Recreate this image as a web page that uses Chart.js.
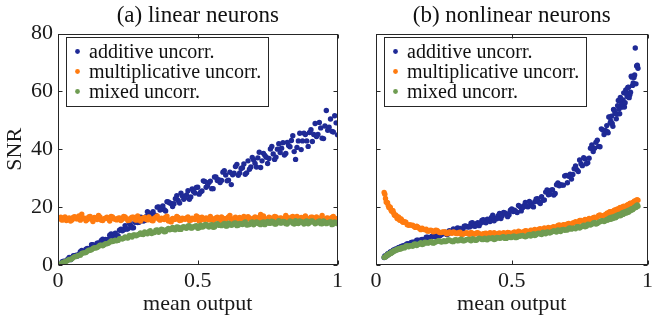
<!DOCTYPE html>
<html>
<head>
<meta charset="utf-8">
<title>SNR vs mean output</title>
<script src="https://cdn.jsdelivr.net/npm/chart.js@4.4.0/dist/chart.umd.min.js"></script>
<style>
  html, body { margin: 0; padding: 0; background: #fff; }
  body { width: 656px; height: 325px; position: relative; overflow: hidden; }
  .panel { position: absolute; top: 0; height: 325px; }
  #panelA { left: 0; width: 346px; }
  #panelB { left: 346px; width: 310px; }
</style>
</head>
<body>
<div class="panel" id="panelA"><canvas id="chartA"></canvas></div>
<div class="panel" id="panelB"><canvas id="chartB"></canvas></div>
<script>
// --- data ---
const seriesLabels = ['additive uncorr.', 'multiplicative uncorr.', 'mixed uncorr.'];
const seriesColors = ['#1f2a96', '#ff7b0f', '#6f9c52'];
const panelTitles = ['(a) linear neurons', '(b) nonlinear neurons'];
const xTicks = [0, 0.5, 1];
const yTicks = [0, 20, 40, 60, 80];

// (a) linear neurons -- two sweeps of readings (whole and half steps)
const xLinear = [
  0.00,0.01,0.02,0.03,0.04,0.05,0.06,0.07,0.08,0.09,
  0.10,0.11,0.12,0.13,0.14,0.15,0.16,0.17,0.18,0.19,
  0.20,0.21,0.22,0.23,0.24,0.25,0.26,0.27,0.28,0.29,
  0.30,0.31,0.32,0.33,0.34,0.35,0.36,0.37,0.38,0.39,
  0.40,0.41,0.42,0.43,0.44,0.45,0.46,0.47,0.48,0.49,
  0.50,0.51,0.52,0.53,0.54,0.55,0.56,0.57,0.58,0.59,
  0.60,0.61,0.62,0.63,0.64,0.65,0.66,0.67,0.68,0.69,
  0.70,0.71,0.72,0.73,0.74,0.75,0.76,0.77,0.78,0.79,
  0.80,0.81,0.82,0.83,0.84,0.85,0.86,0.87,0.88,0.89,
  0.90,0.91,0.92,0.93,0.94,0.95,0.96,0.97,0.98,0.99,
  1.00,
  0.005,0.015,0.025,0.035,0.045,0.055,0.065,0.075,0.085,0.095,
  0.105,0.115,0.125,0.135,0.145,0.155,0.165,0.175,0.185,0.195,
  0.205,0.215,0.225,0.235,0.245,0.255,0.265,0.275,0.285,0.295,
  0.305,0.315,0.325,0.335,0.345,0.355,0.365,0.375,0.385,0.395,
  0.405,0.415,0.425,0.435,0.445,0.455,0.465,0.475,0.485,0.495,
  0.505,0.515,0.525,0.535,0.545,0.555,0.565,0.575,0.585,0.595,
  0.605,0.615,0.625,0.635,0.645,0.655,0.665,0.675,0.685,0.695,
  0.705,0.715,0.725,0.735,0.745,0.755,0.765,0.775,0.785,0.795,
  0.805,0.815,0.825,0.835,0.845,0.855,0.865,0.875,0.885,0.895,
  0.905,0.915,0.925,0.935,0.945,0.955,0.965,0.975,0.985,0.995
];
const linAdditive = [
  0.1,0.2,1.3,1.5,2.6,2.4,3.2,3.1,4.6,4.5,
  5.5,5.2,7.0,6.6,7.5,7.0,8.9,8.8,8.8,10.7,
  10.5,10.1,12.0,11.8,13.6,12.5,13.7,12.9,15.5,14.8,
  16.4,15.4,18.4,17.1,18.4,17.1,20.1,19.4,19.1,21.9,
  21.4,20.2,22.9,22.3,24.8,22.7,24.2,22.7,26.3,24.9,
  26.9,25.2,29.1,26.9,28.5,26.4,30.4,29.2,28.5,32.1,
  31.1,29.3,27.8,31.7,34.8,31.8,33.6,31.4,36.0,33.9,
  36.3,33.9,39.0,36.0,37.9,35.1,40.1,38.4,37.3,41.9,
  40.4,38.0,42.4,40.9,44.7,36.5,42.9,39.9,45.6,42.9,
  45.8,42.7,48.9,45.1,47.4,43.7,53.4,47.6,46.2,51.6,
  45.0,
  0.1,1.1,1.25,2.0,1.85,3.2,3.4,3.7,5.05,4.45,
  5.7,5.8,7.05,6.45,7.6,8.45,7.7,8.5,10.3,9.9,
  11.0,10.1,12.4,12.2,12.4,14.5,12.9,14.8,14.7,16.5,
  15.2,16.7,17.9,16.4,17.3,20.0,19.0,20.4,18.65,21.8,
  21.25,21.2,23.95,21.4,23.85,23.35,25.65,23.5,25.45,26.8,
  24.5,25.6,28.9,27.4,29.0,26.4,30.4,29.45,29.2,32.6,
  29.1,32.05,31.2,34.05,31.05,33.4,34.95,31.85,33.1,37.2,
  35.15,37.05,33.7,38.6,37.25,36.8,40.95,36.5,40.05,38.9,
  42.3,38.55,41.3,43.05,39.2,40.65,45.55,42.9,45.1,41.0,
  46.75,45.1,44.45,49.3,43.85,48.05,46.6,50.5,46.0,49.15
];
const linMultiplicative = [
  15.8,16.5,16.1,15.4,16.3,15.6,16.7,16.0,15.5,16.2,
  15.3,16.6,15.8,16.4,15.7,16.6,15.4,16.2,15.9,16.8,
  16.0,15.6,16.3,15.8,16.6,15.4,16.2,16.5,15.5,16.1,
  15.8,16.4,15.6,16.0,15.3,16.5,15.9,16.2,15.7,16.9,
  15.6,16.1,15.8,16.4,15.5,16.0,16.3,15.4,16.2,15.7,
  16.6,15.5,16.0,16.3,15.6,16.1,15.8,16.5,15.4,16.2,
  15.9,16.6,15.7,16.1,15.5,16.4,15.8,16.0,16.7,15.6,
  16.2,15.9,16.5,15.7,16.1,15.4,16.3,16.0,16.6,15.8,
  16.2,15.6,16.4,15.9,16.8,15.7,16.1,16.4,15.6,16.2,
  15.9,16.5,15.7,16.0,16.3,15.5,16.2,15.8,16.4,15.9,
  16.1,
  16.3,15.5,16.6,15.8,15.2,16.5,16.0,17.0,17.6,16.2,
  15.7,16.8,15.0,16.3,17.1,15.5,16.0,16.5,15.2,16.6,
  15.8,16.2,15.4,16.8,16.0,15.5,16.5,15.7,17.0,15.2,
  16.3,15.8,16.6,15.4,16.2,17.0,15.5,16.0,16.5,15.2,
  14.9,15.7,16.8,15.4,16.2,15.8,16.6,15.5,16.0,17.0,
  15.2,16.5,15.7,16.0,16.8,15.4,16.3,15.8,16.6,15.5,
  16.2,17.1,15.7,16.5,15.4,16.0,16.8,15.8,16.3,15.5,
  16.6,15.7,17.5,17.0,15.4,16.5,15.8,16.8,15.5,16.3,
  16.0,17.1,15.7,16.5,15.4,16.8,15.8,16.2,17.0,15.5,
  16.5,15.7,16.6,16.0,17.1,15.4,16.3,15.8,16.8,15.7
];
const linMixed = [
  0.1,0.4,1.0,1.3,1.9,2.2,2.9,3.2,3.4,4.2,
  4.3,5.1,5.3,5.95,6.05,6.85,6.65,7.4,7.55,8.3,
  8.3,8.4,9.1,8.95,9.7,9.35,10.0,10.4,10.1,10.65,
  10.6,11.4,10.8,11.9,11.2,12.0,11.3,12.4,11.5,12.3,
  12.2,13.0,12.2,13.1,12.3,13.2,12.7,13.6,12.8,13.4,
  12.7,13.8,13.2,14.0,13.1,13.9,13.1,14.3,13.7,14.0,
  13.5,14.45,13.7,14.45,13.6,14.35,14.0,14.85,13.9,14.65,
  13.9,14.85,14.2,14.7,13.95,15.05,14.4,15.0,14.2,15.3,
  14.5,14.95,14.15,15.2,14.4,15.3,14.35,14.95,14.2,15.2,
  14.6,15.25,14.25,15.0,14.3,15.25,14.3,14.8,13.95,14.9,
  14.3,
  0.1,0.8,1.15,1.65,1.9,2.6,2.95,3.35,4.0,4.2,
  4.75,5.1,5.7,5.9,6.4,6.85,7.0,7.35,7.9,8.1,
  8.55,8.5,9.2,9.25,9.45,10.2,9.7,10.4,10.4,11.1,
  10.55,11.1,11.5,10.9,11.2,12.15,11.75,12.2,11.55,12.6,
  12.35,12.25,13.15,12.3,13.05,12.85,13.5,12.8,13.25,13.55,
  12.85,13.1,13.95,13.45,13.8,13.05,14.0,13.75,13.6,14.4,
  13.5,14.15,13.9,14.5,13.75,14.25,14.5,13.8,14.0,14.85,
  14.35,14.7,13.95,14.9,14.55,14.4,15.15,14.2,14.8,14.5,
  15.05,14.3,14.75,15.0,14.2,14.4,15.25,14.7,15.05,14.25,
  15.15,14.75,14.55,15.25,14.25,14.8,14.5,15.0,14.15,14.55
];

// (b) nonlinear neurons -- fine sweep, half-step sweep, extra readings at both ends
const xNonlinear = [
  0.030,0.035,0.040,0.045,0.050,0.055,0.060,0.065,0.070,0.075,0.080,0.085,0.090,0.095,0.100,
  0.11,0.12,0.13,0.14,0.15,0.16,0.17,0.18,0.19,0.20,
  0.21,0.22,0.23,0.24,0.25,0.26,0.27,0.28,0.29,0.30,
  0.31,0.32,0.33,0.34,0.35,0.36,0.37,0.38,0.39,0.40,
  0.41,0.42,0.43,0.44,0.45,0.46,0.47,0.48,0.49,0.50,
  0.51,0.52,0.53,0.54,0.55,0.56,0.57,0.58,0.59,0.60,
  0.61,0.62,0.63,0.64,0.65,0.66,0.67,0.68,0.69,0.70,
  0.71,0.72,0.73,0.74,0.75,0.76,0.77,0.78,0.79,0.80,
  0.81,0.82,0.83,0.84,0.85,
  0.855,0.860,0.865,0.870,0.875,0.880,0.885,0.890,0.895,0.900,0.905,0.910,
  0.915,0.920,0.925,0.930,0.935,0.940,0.945,0.950,0.955,0.960,0.965,
  0.105,0.115,0.125,0.135,0.145,0.155,0.165,0.175,0.185,0.195,
  0.205,0.215,0.225,0.235,0.245,0.255,0.265,0.275,0.285,0.295,
  0.305,0.315,0.325,0.335,0.345,0.355,0.365,0.375,0.385,0.395,
  0.405,0.415,0.425,0.435,0.445,0.455,0.465,0.475,0.485,0.495,
  0.505,0.515,0.525,0.535,0.545,0.555,0.565,0.575,0.585,0.595,
  0.605,0.615,0.625,0.635,0.645,0.655,0.665,0.675,0.685,0.695,
  0.705,0.715,0.725,0.735,0.745,0.755,0.765,0.775,0.785,0.795,
  0.805,0.815,0.825,0.835,0.845,
  0.0325,0.0375,0.0425,0.0475,0.0525,0.0575,0.0625,0.0675,0.0725,0.0775,0.0825,0.0875,0.0925,0.0975,
  0.8525,0.8575,0.8625,0.8675,0.8725,0.8775,0.8825,0.8875,0.8925,0.8975,0.9025,0.9075,
  0.9125,0.9175,0.9225,0.9275,0.9325,0.9375,0.9425,0.9475,0.9525,0.9575,0.9625
];
const nonlinAdditive = [
  2.6,3.1,3.2,3.9,4.0,4.5,4.5,5.2,5.15,5.5,5.5,6.1,6.1,6.2,6.7,
  7.0,7.05,7.8,7.86,8.6,8.3,8.8,8.55,9.6,9.45,
  10.1,9.74,10.98,10.47,11.05,10.54,11.9,11.7,11.56,12.84,
  12.67,12.2,13.5,13.2,14.44,13.52,14.3,13.6,15.42,14.79,
  15.83,15.04,17.18,16.17,17.05,16.04,18.21,17.7,17.36,19.34,
  18.97,18.14,20.2,19.76,21.63,20.1,21.26,20.08,22.87,21.8,
  23.58,22.47,25.91,24.44,26.05,24.71,28.33,27.8,27.6,31.0,
  30.7,29.7,33.3,32.97,36.3,34.34,36.65,35.32,40.36,39.2,
  42.4,41.0,47.07,45.11,48.2,
  45.68,51.14,49.75,48.95,53.75,52.63,50.52,55.1,53.93,57.93,54.58,57.08,
  54.6,60.52,58.28,61.47,58.9,65.27,62.1,64.86,75.0,68.8,68.0,
  6.55,7.37,7.41,7.91,7.68,8.61,8.62,8.72,9.61,9.07,
  9.89,9.85,10.65,10.09,10.79,11.32,10.68,11.18,12.43,11.99,
  12.67,11.89,13.44,13.17,13.18,14.6,13.38,14.65,14.45,15.68,
  14.61,15.66,16.43,15.31,15.97,17.8,17.05,18.02,16.72,18.92,
  18.5,18.5,20.55,18.71,20.54,20.2,21.97,20.36,21.86,22.92,
  21.26,22.35,25.21,24.29,25.87,24.19,27.73,27.4,27.62,30.78,
  28.43,31.38,31.27,34.26,32.34,34.99,37.09,35.02,36.92,41.5,
  40.4,43.13,40.9,46.69,46.5,
  3.1,3.0,3.8,3.7,4.5,4.3,5.0,4.9,5.55,5.3,6.0,5.8,6.45,6.2,
  46.05,51.19,49.07,51.42,47.93,53.58,52.4,52.11,56.87,52.29,56.44,55.64,
  59.51,56.07,59.23,61.35,57.86,59.75,64.94,62.97,65.72,62.63,69.08
];
const nonlinMultiplicative = [
  25.1,23.0,21.6,20.6,20.1,19.1,18.9,18.0,17.1,17.0,16.0,16.3,15.5,15.5,14.8,
  14.8,13.7,13.7,13.3,13.4,12.6,12.7,12.2,11.7,12.0,
  11.5,12.0,11.5,11.2,11.4,10.8,11.4,11.0,11.25,10.85,
  11.3,10.6,11.0,10.8,11.25,10.7,11.05,10.85,10.5,10.95,
  10.6,11.15,10.8,10.55,10.95,10.5,11.2,10.8,11.15,10.85,
  11.4,10.9,11.4,11.35,11.9,11.5,12.05,11.95,11.75,12.35,
  12.15,12.85,12.65,12.55,13.1,12.85,13.65,13.45,13.9,13.75,
  14.4,14.0,14.65,14.7,15.4,15.15,15.75,15.75,15.65,16.35,
  16.3,17.1,17.05,17.05,17.7,
  17.45,18.3,18.1,18.55,18.4,19.05,18.65,19.25,19.25,19.9,19.6,20.15,
  20.15,20.0,20.65,20.55,21.3,21.2,21.15,21.8,21.55,22.5,22.4,
  14.95,13.95,13.9,13.8,13.0,13.1,12.22,12.32,12.4,11.72,
  11.92,11.55,11.95,11.2,11.4,11.45,10.87,11.22,11.42,10.87,
  11.22,10.57,10.9,11.17,10.65,10.97,10.7,11.2,10.55,10.85,
  11.0,10.5,10.9,11.15,10.67,11.1,10.52,10.9,11.22,10.77,
  11.2,11.05,11.65,11.1,11.5,11.77,11.42,11.95,12.32,11.97,
  12.52,12.07,12.57,13.02,12.7,13.25,13.17,13.85,13.37,13.85,
  14.2,13.9,14.52,15.0,14.72,15.37,15.02,15.6,16.12,15.87,
  16.5,16.52,17.3,16.92,17.5,
  24.5,21.8,21.5,19.9,20.0,18.6,18.75,17.25,17.3,16.15,16.6,15.5,15.95,14.95,
  18.0,17.7,18.45,17.97,18.55,18.9,18.5,19.25,19.12,19.7,19.35,19.95,
  20.35,19.9,20.45,20.87,20.65,21.37,21.15,21.75,22.15,21.8,22.45
];
const nonlinMixed = [
  2.65,2.8,3.5,3.5,4.0,4.0,4.5,4.9,4.9,5.3,5.4,5.7,5.55,5.95,5.95,
  6.55,6.3,6.7,7.15,6.75,7.35,7.1,7.9,7.55,8.05,
  7.55,8.05,8.4,7.95,8.4,8.25,8.7,8.1,8.65,8.4,
  8.85,8.4,8.65,8.95,8.4,8.9,8.55,9.25,8.8,9.25,
  8.7,9.15,9.45,8.95,9.45,9.3,9.75,9.2,9.75,9.5,
  10.0,9.6,9.9,10.25,9.75,10.35,10.05,10.85,10.45,11.0,
  10.55,11.05,11.45,11.05,11.6,11.55,12.1,11.6,12.3,12.15,
  12.7,12.4,12.75,13.2,12.75,13.4,13.2,14.1,13.85,14.5,
  14.15,14.8,15.3,15.05,15.75,
  15.7,16.25,15.8,16.45,16.35,16.9,16.6,17.0,17.45,17.05,17.7,17.5,
  18.35,18.05,18.65,18.25,18.9,19.4,19.1,19.75,19.85,20.55,20.3,
  5.92,6.67,6.65,6.45,7.25,7.07,7.67,7.22,7.77,7.7,
  8.15,7.65,8.15,8.35,8.07,8.07,8.62,8.42,8.07,8.72,
  8.42,8.92,8.37,8.82,8.67,9.07,8.52,8.97,9.12,8.82,
  8.82,9.37,9.17,8.82,9.5,9.22,9.72,9.2,9.67,9.52,
  9.95,9.45,9.95,10.15,9.9,9.97,10.6,10.47,10.2,10.92,
  10.72,11.3,10.82,11.37,11.32,11.82,11.37,11.92,12.2,12.02,
  12.12,12.8,12.72,12.5,13.27,13.1,13.75,13.37,14.02,14.07,
  14.67,14.32,14.97,15.35,15.3,
  2.7,3.25,3.35,3.9,3.95,4.5,4.5,5.0,5.0,5.45,5.35,5.75,5.65,6.05,
  15.5,16.1,15.9,16.52,16.1,16.67,16.35,17.2,17.05,17.5,17.2,18.05,
  17.75,18.35,17.95,18.6,19.02,18.72,19.42,19.37,20.1,19.85,20.8
];

// --- look ---
Chart.defaults.font.family = '"Liberation Serif", "Times New Roman", serif';
Chart.defaults.color = '#1a1a1a';
const frameColor = '#262626';

// box legend in the upper left of the axes, like matlab's
const legendPlugin = {
  id: 'boxLegend',
  afterDatasetsDraw(chart) {
    const { ctx, chartArea: a } = chart;
    const x0 = Math.round(a.left) + 8, y0 = Math.round(a.top) + 3;
    ctx.save();
    ctx.fillStyle = '#fff';
    ctx.fillRect(x0, y0, 202, 69);
    ctx.strokeStyle = frameColor;
    ctx.lineWidth = 1;
    ctx.strokeRect(x0 + 0.5, y0 + 0.5, 202, 69);
    ctx.font = '20px "Liberation Serif"';
    ctx.textBaseline = 'alphabetic';
    chart.data.datasets.forEach((ds, i) => {
      const base = y0 + 21 + i * 20;
      ctx.fillStyle = ds.backgroundColor;
      ctx.beginPath();
      ctx.arc(x0 + 11.5, base - 6.5, 2.4, 0, Math.PI * 2);
      ctx.fill();
      ctx.fillStyle = '#111';
      ctx.fillText(ds.label, x0 + 23, base);
    });
    ctx.restore();
  }
};

// full box with inward ticks on all four sides
const framePlugin = {
  id: 'frame',
  afterDraw(chart) {
    const { ctx, chartArea: a, scales } = chart;
    const L = Math.round(a.left) + 0.5, R = Math.round(a.right) - 0.5;
    const T = Math.round(a.top) + 0.5, B = Math.round(a.bottom) - 0.5;
    ctx.save();
    ctx.strokeStyle = frameColor;
    ctx.lineWidth = 1;
    ctx.strokeRect(L, T, R - L, B - T);
    ctx.beginPath();
    xTicks.forEach(v => {
      const px = Math.round(scales.x.getPixelForValue(v)) + 0.5;
      ctx.moveTo(px, B); ctx.lineTo(px, B - 4);
      ctx.moveTo(px, T); ctx.lineTo(px, T + 4);
    });
    yTicks.forEach(v => {
      const py = Math.round(scales.y.getPixelForValue(v)) + 0.5;
      ctx.moveTo(L, py); ctx.lineTo(L + 4, py);
      ctx.moveTo(R, py); ctx.lineTo(R - 4, py);
    });
    ctx.stroke();
    ctx.restore();
  }
};

function makePanel(canvasId, title, xs, seriesY, yAxisWidth, rightPad, showY) {
  const datasets = seriesY.map((ys, i) => ({
    label: seriesLabels[i],
    data: xs.map((x, j) => ({ x: x, y: ys[j] })),
    backgroundColor: seriesColors[i],
    borderWidth: 0,
    pointRadius: 2.7,
    pointHoverRadius: 2.7,
    order: 3 - i   // green on top, blue underneath
  }));

  return new Chart(document.getElementById(canvasId), {
    type: 'scatter',
    data: { datasets: datasets },
    options: {
      responsive: true,
      maintainAspectRatio: false,
      animation: false,
      events: [],
      layout: { autoPadding: false, padding: { left: 0, right: rightPad, top: 0, bottom: 0 } },
      plugins: {
        legend: { display: false },
        tooltip: { enabled: false },
        title: {
          display: true,
          text: title,
          fullSize: false,
          font: { size: 23, weight: 'normal' },
          color: '#111',
          padding: { top: 2, bottom: 4 }
        }
      },
      scales: {
        x: {
          type: 'linear',
          min: 0,
          max: 1,
          afterBuildTicks: s => { s.ticks = xTicks.map(v => ({ value: v })); },
          afterFit: s => { s.height = 60; },
          grid: { display: false, drawTicks: false },
          border: { display: false },
          ticks: {
            font: { size: 22 },
            padding: 3,
            maxRotation: 0,
            autoSkip: false,
            callback: v => String(v)
          },
          title: {
            display: true,
            text: 'mean output',
            font: { size: 22 },
            padding: { top: 0, bottom: 8 }
          }
        },
        y: {
          type: 'linear',
          min: 0,
          max: 80,
          afterBuildTicks: s => { s.ticks = yTicks.map(v => ({ value: v })); },
          afterFit: s => { s.width = yAxisWidth; },
          grid: { display: false, drawTicks: false },
          border: { display: false },
          ticks: { display: showY, font: { size: 22 }, padding: 5 },
          title: {
            display: showY,
            text: 'SNR',
            font: { size: 22 },
            padding: { top: 2, bottom: 0 }
          }
        }
      }
    },
    plugins: [legendPlugin, framePlugin]
  });
}

makePanel('chartA', panelTitles[0], xLinear,
  [linAdditive, linMultiplicative, linMixed], 58, 8, true);
makePanel('chartB', panelTitles[1], xNonlinear,
  [nonlinAdditive, nonlinMultiplicative, nonlinMixed], 30, 2, false);
</script>
</body>
</html>
